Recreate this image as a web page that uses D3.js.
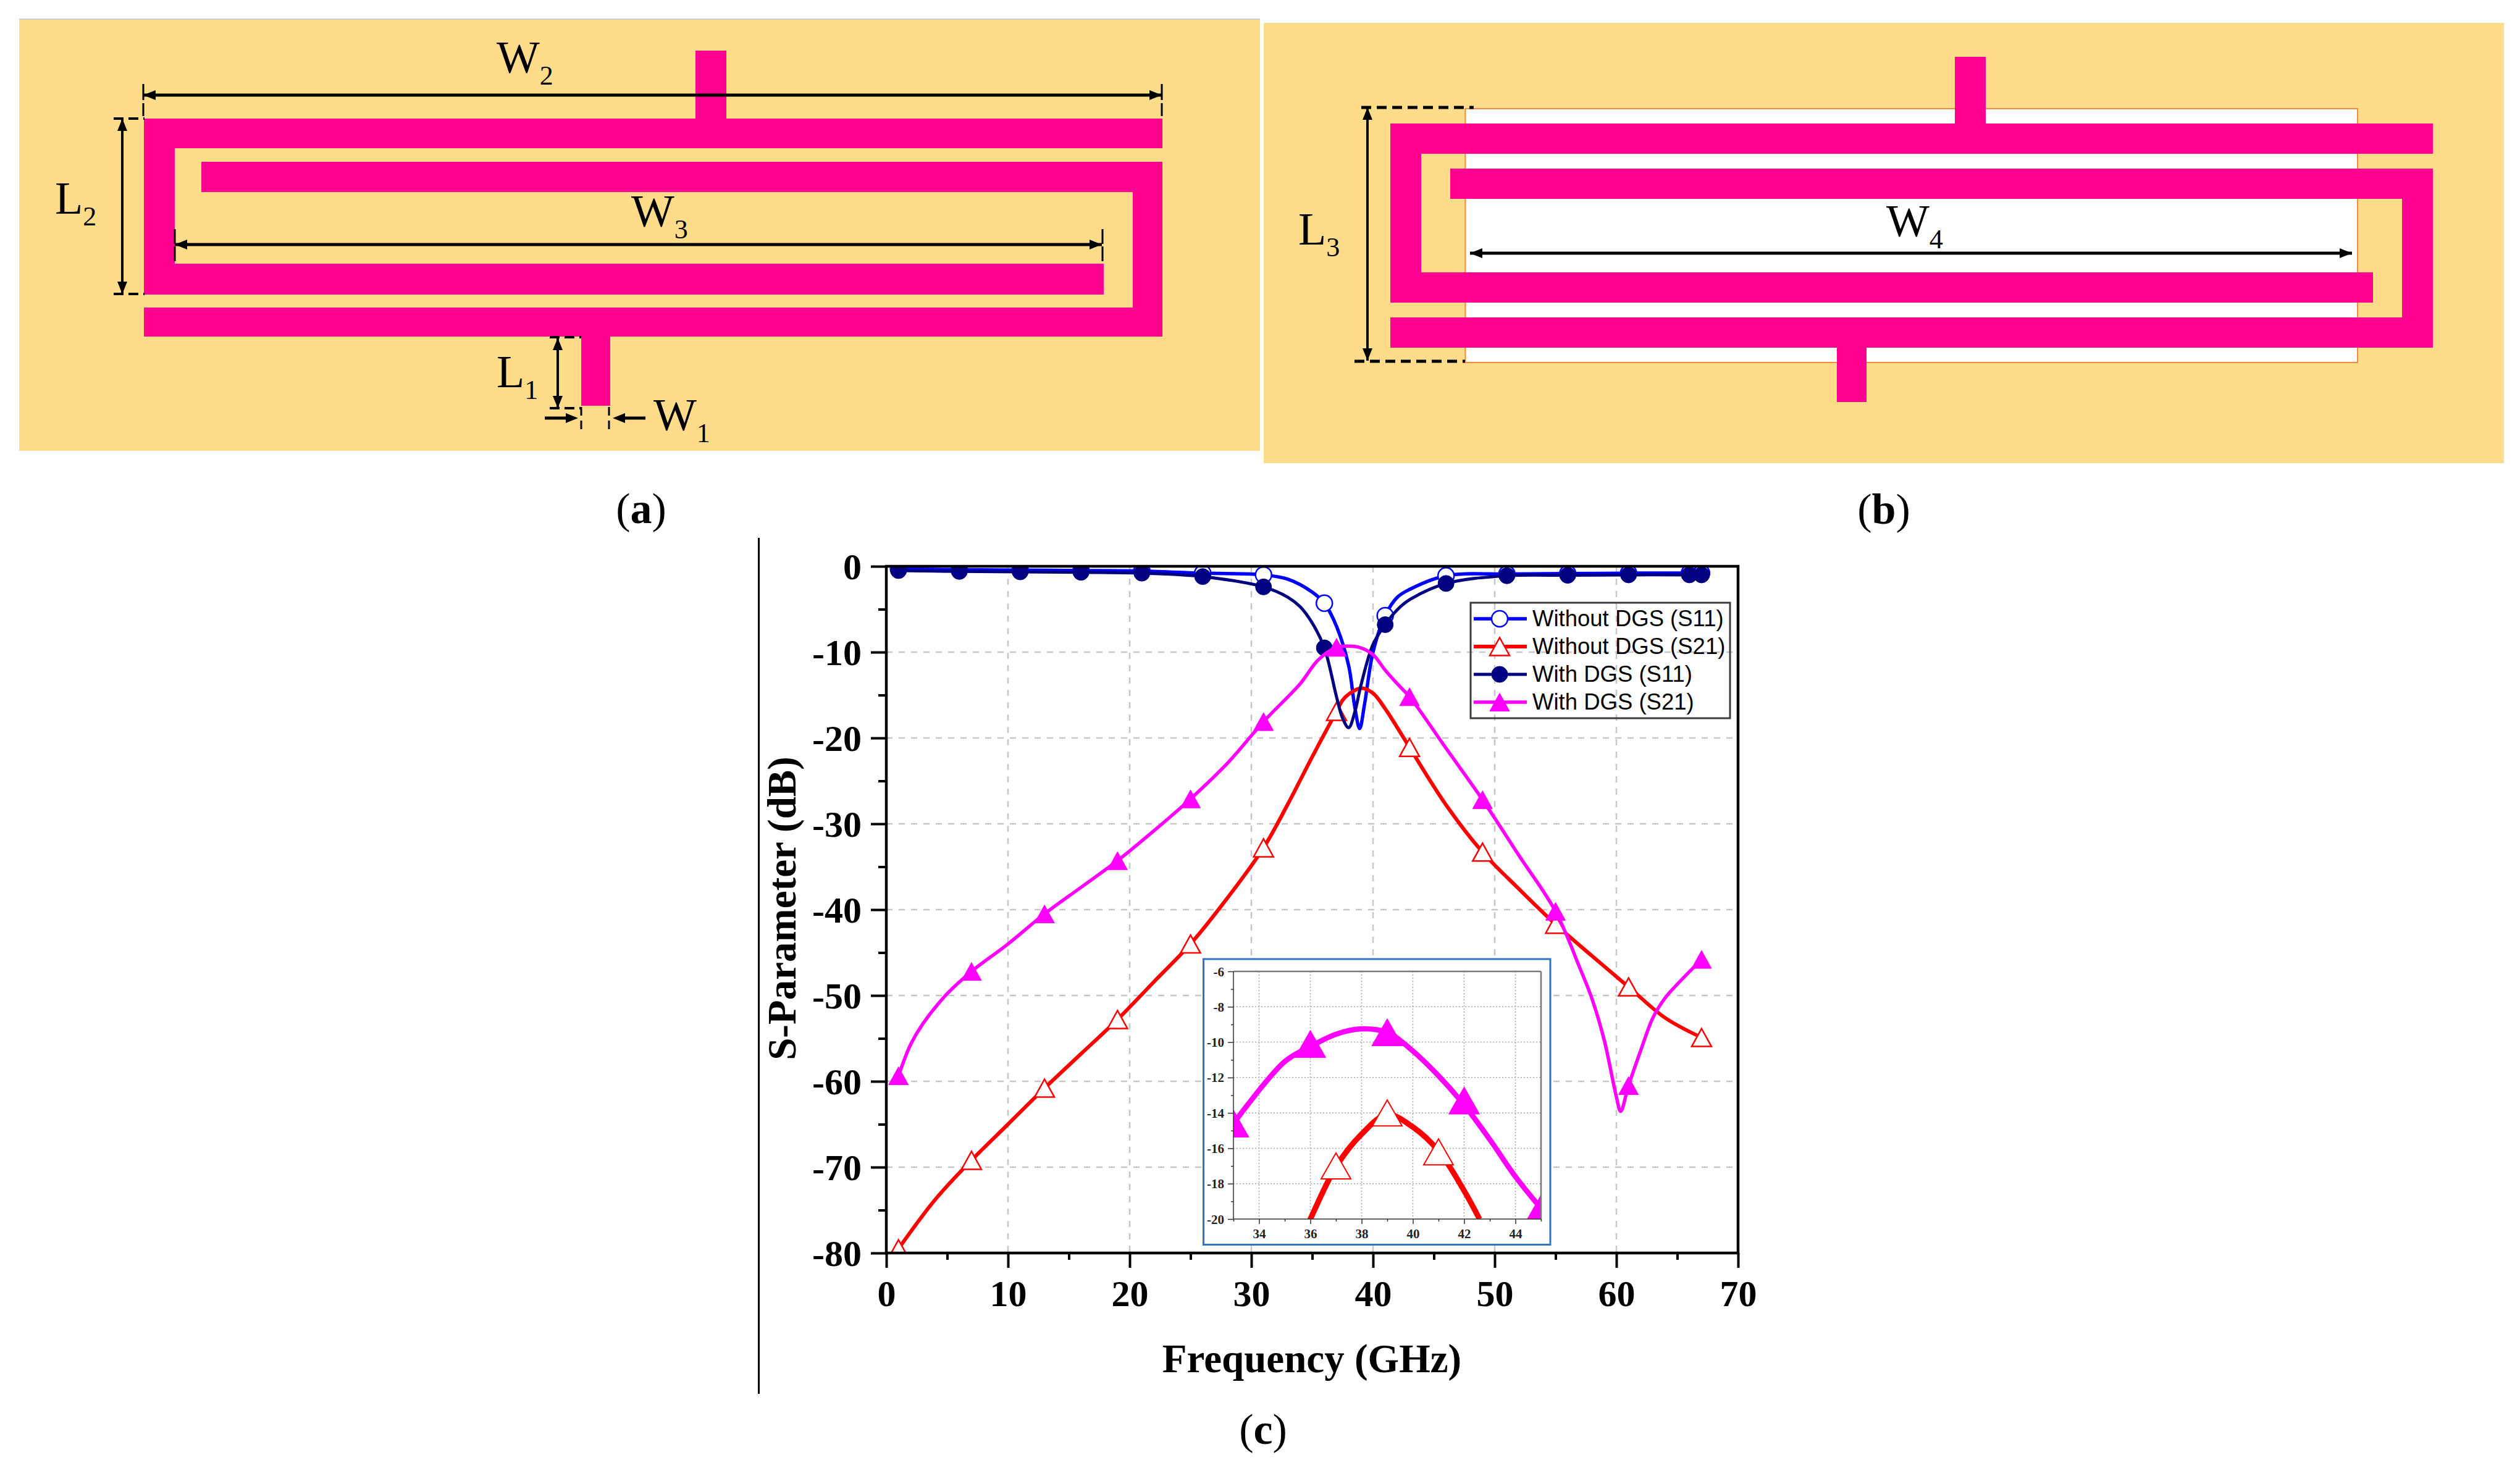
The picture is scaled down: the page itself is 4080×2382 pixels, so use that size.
<!DOCTYPE html>
<html><head><meta charset="utf-8">
<script src="https://cdnjs.cloudflare.com/ajax/libs/d3/7.8.5/d3.min.js"></script>
<style>html,body{margin:0;padding:0;background:#fff}svg{display:block}</style>
</head><body><svg id="fig" width="4080" height="2382"></svg>
<script>
// ---------- main chart data ----------
const xTicks = [0,10,20,30,40,50,60,70];
const xMinorTicks = [5,15,25,35,45,55,65];
const yTicks = [0,-10,-20,-30,-40,-50,-60,-70,-80];
const yMinorTicks = [-5,-15,-25,-35,-45,-55,-65,-75];
const xGridValues = [10,20,30,40,50,60];
const yGridValues = [-10,-20,-30,-40,-50,-60,-70];

const s11Markers = [1,6,11,16,21,26,31,36,41,46,51,56,61,66,67];
const s21Markers = [1,7,13,19,25,31,37,43,49,55,61,67];

const withoutS11Freq = [1,6,11,16,21,26,31,33,35,36,37,38,38.5,38.9,39.3,40,41,42,43,46,51,56,61,66,67];
const withoutS11Vals = [-0.3,-0.4,-0.45,-0.5,-0.55,-0.8,-1.0,-1.5,-3.0,-4.3,-7.0,-11.6,-16.4,-18.9,-16.1,-10,-5.75,-3.6,-2.7,-1.1,-0.9,-0.85,-0.8,-0.8,-0.8];

const withoutS21Freq = [1,4,7,10,13,16,19,22,25,28,31,33,35,37,37.5,38,39,40,41,42,43,46,49,52,55,58,61,64,67];
const withoutS21Vals = [-79.5,-73.8,-69.2,-65,-60.8,-56.8,-52.8,-48.4,-44,-38.7,-32.8,-27.7,-22.2,-16.9,-15.6,-14.9,-14.2,-14.8,-16.6,-18.8,-21.1,-27.8,-33.3,-37.6,-41.7,-45.4,-49,-52.6,-54.9];

const withS11Freq = [1,6,11,16,21,26,31,33,34,35,36,37,37.5,38,38.5,39,40,41,42,43,46,51,56,61,66,67];
const withS11Vals = [-0.5,-0.6,-0.65,-0.7,-0.8,-1.2,-2.4,-3.6,-4.7,-6.6,-9.5,-15.2,-17.7,-18.8,-17,-13.9,-9.1,-6.8,-5.05,-3.9,-2.0,-1.1,-1.05,-1.0,-1.0,-1.0];

const withS21Freq = [1,2,3,5,7,10,13,16,19,22,25,28,31,34,35.5,37,38,39,40,41,42,43,46,49,52,55,57,58,59,60,60.35,61,62,63,64,65,67];
const withS21Vals = [-59.35,-55.7,-53.3,-49.8,-47.2,-44,-40.5,-37.4,-34.3,-30.8,-27.1,-23,-18.1,-13.7,-10.9,-9.45,-9.3,-9.5,-10.3,-12.1,-13.7,-15.2,-21.2,-27.2,-33.7,-40.2,-46.8,-50.4,-55.2,-61.8,-63.5,-60.5,-56.4,-52.6,-50.3,-48.7,-45.8];

const legendLabels = ["Without DGS (S11)","Without DGS (S21)","With DGS (S11)","With DGS (S21)"];

// ---------- inset data ----------
const insetXTicks = [34,36,38,40,42,44];
const insetXMinor = [33,35,37,39,41,43,45];
const insetYTicks = [-6,-8,-10,-12,-14,-16,-18,-20];
const insetYMinor = [-7,-9,-11,-13,-15,-17,-19];
const insetMagFreq = [33,35,36,37,38,39,40,41,42,43,44,45];
const insetMagVals = [-14.6,-11.1,-10.25,-9.55,-9.25,-9.45,-10.5,-11.9,-13.55,-15.5,-17.6,-19.4];
const insetMagMarkFreq = [33,36,39,42,45];
const insetMagMarkVals = [-14.6,-10.1,-9.44,-13.3,-19.4];
const insetRedFreq = [35.9,36,37,38,39,40,41,42,42.6];
const insetRedVals = [-20.3,-20,-17.05,-15.2,-14.1,-14.8,-16.15,-18.4,-20];
const insetRedMarkFreq = [37,39,41];
const insetRedMarkVals = [-17,-14,-16.2];

// ---------- style ----------
const serif = "'Liberation Serif','Times New Roman',serif";
const sans = "'Liberation Sans',Arial,sans-serif";
const pink = "#FF0090", sand = "#FEDC89";
const cBlue="#0000FF", cRed="#FF0000", cNavy="#000080", cMag="#FF00FF";
const svg = d3.select("#fig");

// ---------- schematic helpers ----------
function rects(list, fill){
  svg.append("g").selectAll("rect").data(list).join("rect")
    .attr("x",d=>d[0]).attr("y",d=>d[1]).attr("width",d=>d[2]-d[0]).attr("height",d=>d[3]-d[1])
    .attr("fill",fill);
}
function seg(x1,y1,x2,y2,w,dash){
  const l = svg.append("line").attr("x1",x1).attr("y1",y1).attr("x2",x2).attr("y2",y2)
    .attr("stroke","#000").attr("stroke-width",w||3);
  if(dash) l.attr("stroke-dasharray",dash);
}
function head(x,y,dir){
  const L=20,W=8;
  const p = dir==="l"?[[x,y],[x+L,y-W],[x+L,y+W]]:dir==="r"?[[x,y],[x-L,y-W],[x-L,y+W]]:
            dir==="u"?[[x,y],[x-W,y+L],[x+W,y+L]]:[[x,y],[x-W,y-L],[x+W,y-L]];
  svg.append("polygon").attr("points",p.map(q=>q.join(",")).join(" ")).attr("fill","#000");
}
function hArrow(x1,x2,y){seg(x1,y,x2,y,5);head(x1,y,"l");head(x2,y,"r");}
function vArrow(x,y1,y2){seg(x,y1,x,y2,4);head(x,y1,"u");head(x,y2,"d");}
function sym(main,sub,x,y){
  const t = svg.append("text").attr("x",x).attr("y",y).attr("font-family",serif).attr("font-size",74).attr("fill","#000").text(main);
  t.append("tspan").attr("font-size",44).attr("dy",19).text(sub);
}
function caption(letter,cx,y){
  const t = svg.append("text").attr("x",cx).attr("y",y).attr("text-anchor","middle")
    .attr("font-family",serif).attr("font-size",70).attr("fill","#000").text("(");
  t.append("tspan").attr("font-weight","bold").text(letter);
  t.append("tspan").text(")");
}

// ---------- panel (a) ----------
svg.append("rect").attr("x",31).attr("y",31).attr("width",2009).attr("height",699).attr("fill",sand);
svg.append("line").attr("x1",31).attr("x2",2040).attr("y1",31).attr("y2",31).attr("stroke","#cfcfcf").attr("stroke-width",2);
rects([
 [233,192,1882,240],[233,192,283,477],[233,427,1787,477],[326,262,1882,311],
 [1834,262,1882,545],[233,498,1882,545],[1126,82,1176,192],[941,545,988,657]
],pink);
hArrow(232,1881,154);
seg(232,136,232,188,3,"26 5"); seg(1881,136,1881,188,3,"26 5");
hArrow(283,1784,396);
seg(283,371,283,425,3,"24 4"); seg(1785,371,1785,425,3,"24 4");
vArrow(198,192,476);
seg(184,192,234,192,4,"16 8"); seg(184,476,234,476,4,"16 8");
vArrow(903,547,661);
seg(890,546,941,546,4,"16 8"); seg(890,661,941,661,4,"16 8");
seg(882,677,922,677,5); head(936,677,"r");
seg(1006,677,1045,677,5); head(992,677,"l");
seg(941,659,941,698,3,"14 8"); seg(986,659,986,698,3,"14 8");
sym("W","2",804,118); sym("W","3",1022,367); sym("L","2",89,346); sym("L","1",804,627); sym("W","1",1058,697);
caption("a",1038,847);

// ---------- panel (b) ----------
svg.append("rect").attr("x",2046).attr("y",37).attr("width",2008).attr("height",713).attr("fill",sand);
svg.append("rect").attr("x",2372.5).attr("y",176).attr("width",1444.5).attr("height",411)
  .attr("fill","#fff").attr("stroke","#F08A3C").attr("stroke-width",2);
rects([
 [2251,200,3939,249],[2251,200,2301,490],[2251,441,3842,490],[2348,273,3939,322],
 [3889,273,3939,563],[2251,514,3939,563],[3165,92,3215,200],[2974,563,3022,651]
],pink);
vArrow(2214,174,584);
seg(2204,174,2386,174,5,"16 9"); seg(2193,585,2372,585,5,"16 9");
hArrow(2380,3808,410);
sym("W","4",3054,383); sym("L","3",2102,396);
caption("b",3050,848);

// ---------- separator + caption (c) ----------
svg.append("line").attr("x1",1228.5).attr("x2",1228.5).attr("y1",871).attr("y2",2257).attr("stroke","#000").attr("stroke-width",3);
caption("c",2045,2338);

// ---------- main chart ----------
const x = d3.scaleLinear().domain([0,70]).range([1435,2814]);
const y = d3.scaleLinear().domain([0,-80]).range([917,2029]);
const chart = svg.append("g");
const defs = svg.append("defs");
defs.append("clipPath").attr("id","plotClip").append("rect")
  .attr("x",x(0)).attr("y",y(0)).attr("width",x(70)-x(0)).attr("height",y(-80)-y(0));

const grid = chart.append("g").attr("stroke","#c6c6c6").attr("stroke-width",2.5).attr("stroke-dasharray","10 10");
grid.selectAll("line.v").data(xGridValues).join("line").attr("class","v")
  .attr("x1",d=>x(d)).attr("x2",d=>x(d)).attr("y1",y(0)).attr("y2",y(-80));
grid.selectAll("line.h").data(yGridValues).join("line").attr("class","h")
  .attr("y1",d=>y(d)).attr("y2",d=>y(d)).attr("x1",x(0)).attr("x2",x(70));

function triPath(w,h){return `M0,${-h/2}L${w/2},${h/2}L${-w/2},${h/2}Z`;}
const line = (sx,sy)=>d3.line().x(d=>sx(d[0])).y(d=>sy(d[1])).curve(d3.curveCatmullRom.alpha(0.5));
const zip=(a,b)=>a.map((v,i)=>[v,b[i]]);
const lookup=(fr,vals,f)=>vals[fr.indexOf(f)];

const series = [
 {f:withoutS11Freq,v:withoutS11Vals,m:s11Markers,c:cBlue,w:5.5,kind:"circle",open:true},
 {f:withoutS21Freq,v:withoutS21Vals,m:s21Markers,c:cRed,w:6,kind:"tri",open:true},
 {f:withS11Freq,v:withS11Vals,m:s11Markers,c:cNavy,w:5,kind:"circle",open:false},
 {f:withS21Freq,v:withS21Vals,m:s21Markers,c:cMag,w:5.5,kind:"tri",open:false}
];
function drawMark(sel,kind,open,c,r,tw,th,sw){
  if(kind==="circle") sel.append("circle").attr("r",r).attr("fill",open?"#fff":c).attr("stroke",c).attr("stroke-width",open?sw:1);
  else sel.append("path").attr("d",triPath(tw,th)).attr("fill",open?"#fff":c).attr("stroke",c).attr("stroke-width",open?sw:1).attr("stroke-linejoin","miter");
}
const plot = chart.append("g").attr("clip-path","url(#plotClip)");
series.forEach(s=>{
  plot.append("path").datum(zip(s.f,s.v)).attr("d",line(x,y)).attr("fill","none").attr("stroke",s.c).attr("stroke-width",s.w);
  s.m.forEach(f=>{
    const g = plot.append("g").attr("transform",`translate(${x(f)},${y(lookup(s.f,s.v,f))})`);
    drawMark(g,s.kind,s.open,s.c,13,32,29,2.5);
  });
});

// axes
const styleAxis = (g)=>{
  g.selectAll("path.domain").remove();
  g.selectAll("text").attr("font-family",serif).attr("font-size",60).attr("font-weight","bold").attr("fill","#000");
};
const ax = chart.append("g").attr("transform",`translate(0,${y(-80)})`)
  .call(d3.axisBottom(x).tickValues(xTicks).tickSize(24).tickPadding(0));
ax.call(styleAxis);
ax.selectAll("text").attr("y",null).attr("dy",null).attr("y",86);
ax.selectAll("line").attr("stroke","#000").attr("stroke-width",4);
const axm = chart.append("g").attr("transform",`translate(0,${y(-80)})`)
  .call(d3.axisBottom(x).tickValues(xMinorTicks).tickSize(11).tickFormat(""));
axm.call(styleAxis); axm.selectAll("line").attr("stroke","#000").attr("stroke-width",4);

const ay = chart.append("g").attr("transform",`translate(${x(0)},0)`)
  .call(d3.axisLeft(y).tickValues(yTicks).tickSize(25).tickPadding(0).tickFormat(d=>String(d)));
ay.call(styleAxis);
ay.selectAll("text").attr("x",-40).attr("dy",null).attr("y",20);
ay.selectAll("line").attr("stroke","#000").attr("stroke-width",4);
const aym = chart.append("g").attr("transform",`translate(${x(0)},0)`)
  .call(d3.axisLeft(y).tickValues(yMinorTicks).tickSize(13).tickFormat(""));
aym.call(styleAxis); aym.selectAll("line").attr("stroke","#000").attr("stroke-width",4);

chart.append("rect").attr("x",x(0)).attr("y",y(0)).attr("width",x(70)-x(0)).attr("height",y(-80)-y(0))
  .attr("fill","none").attr("stroke","#000").attr("stroke-width",4.5);

chart.append("text").attr("x",2124).attr("y",2222).attr("text-anchor","middle")
  .attr("font-family",serif).attr("font-size",65).attr("font-weight","bold").text("Frequency (GHz)");
chart.append("text").attr("transform","translate(1288,1471) rotate(-90)").attr("text-anchor","middle")
  .attr("font-family",serif).attr("font-size",65).attr("font-weight","bold").text("S-Parameter (dB)");

// legend (transparent background: grid shows through)
const leg = chart.append("g");
leg.append("rect").attr("x",2381).attr("y",976).attr("width",420).attr("height",187)
  .attr("fill","none").attr("stroke","#3d3d3d").attr("stroke-width",3);
const rowY = d3.scaleLinear().domain([0,3]).range([1002,1137]);
legendLabels.forEach((t,i)=>{
  const s = series[i], ry = rowY(i);
  leg.append("line").attr("x1",2386).attr("x2",2472).attr("y1",ry).attr("y2",ry).attr("stroke",s.c).attr("stroke-width",s.w);
  drawMark(leg.append("g").attr("transform",`translate(2428,${ry})`),s.kind,s.open,s.c,13,32,29,2.5);
  leg.append("text").attr("x",2481).attr("y",ry+12).attr("font-family",sans).attr("font-size",36.5).attr("fill","#000").text(t);
});

// ---------- inset ----------
const inset = svg.append("g");
inset.append("rect").attr("x",1948.5).attr("y",1553).attr("width",561.5).attr("height",462.5)
  .attr("fill","#fff").attr("stroke","#2E75C6").attr("stroke-width",3);
const ix = d3.scaleLinear().domain([33,45]).range([1997,2495]);
const iy = d3.scaleLinear().domain([-6,-20]).range([1573,1974]);
defs.append("clipPath").attr("id","insetClip").append("rect")
  .attr("x",ix(33)).attr("y",iy(-6)).attr("width",ix(45)-ix(33)).attr("height",iy(-20)-iy(-6));
const ig = inset.append("g").attr("stroke","#a8a8a8").attr("stroke-width",1.5).attr("stroke-dasharray","2 3");
ig.selectAll("line.v").data(insetXTicks).join("line").attr("class","v")
  .attr("x1",d=>ix(d)).attr("x2",d=>ix(d)).attr("y1",iy(-6)).attr("y2",iy(-20));
ig.selectAll("line.h").data(insetYTicks.slice(1,-1)).join("line").attr("class","h")
  .attr("y1",d=>iy(d)).attr("y2",d=>iy(d)).attr("x1",ix(33)).attr("x2",ix(45));

const ip = inset.append("g").attr("clip-path","url(#insetClip)");
ip.append("path").datum(zip(insetRedFreq,insetRedVals)).attr("d",line(ix,iy)).attr("fill","none").attr("stroke",cRed).attr("stroke-width",9);
ip.append("path").datum(zip(insetMagFreq,insetMagVals)).attr("d",line(ix,iy)).attr("fill","none").attr("stroke",cMag).attr("stroke-width",8.5);
zip(insetMagMarkFreq,insetMagMarkVals).forEach(d=>{
  drawMark(ip.append("g").attr("transform",`translate(${ix(d[0])},${iy(d[1])})`),"tri",false,cMag,0,50,44,2);
});
zip(insetRedMarkFreq,insetRedMarkVals).forEach(d=>{
  drawMark(ip.append("g").attr("transform",`translate(${ix(d[0])},${iy(d[1])})`),"tri",true,cRed,0,48,42,2);
});
const iax = inset.append("g").attr("transform",`translate(0,${iy(-20)})`)
  .call(d3.axisBottom(ix).tickValues(insetXTicks).tickSize(8));
iax.select("path.domain").remove();
iax.selectAll("line").attr("stroke","#333").attr("stroke-width",1.5);
iax.selectAll("text").attr("dy",null).attr("y",31).attr("font-family",serif).attr("font-size",21).attr("font-weight","bold").attr("fill","#222");
const iaxm = inset.append("g").attr("transform",`translate(0,${iy(-20)})`)
  .call(d3.axisBottom(ix).tickValues(insetXMinor).tickSize(4).tickFormat(""));
iaxm.select("path.domain").remove(); iaxm.selectAll("line").attr("stroke","#333").attr("stroke-width",1.5);
const iay = inset.append("g").attr("transform",`translate(${ix(33)},0)`)
  .call(d3.axisLeft(iy).tickValues(insetYTicks).tickSize(9).tickFormat(d=>String(d)));
iay.select("path.domain").remove();
iay.selectAll("line").attr("stroke","#333").attr("stroke-width",1.5);
iay.selectAll("text").attr("dy",null).attr("x",-15).attr("y",7).attr("font-family",serif).attr("font-size",21).attr("font-weight","bold").attr("fill","#222");
const iaym = inset.append("g").attr("transform",`translate(${ix(33)},0)`)
  .call(d3.axisLeft(iy).tickValues(insetYMinor).tickSize(4).tickFormat(""));
iaym.select("path.domain").remove(); iaym.selectAll("line").attr("stroke","#333").attr("stroke-width",1.5);
inset.append("line").attr("x1",ix(33)).attr("x2",ix(45)).attr("y1",iy(-6)).attr("y2",iy(-6)).attr("stroke","#777").attr("stroke-width",2.5);
inset.append("line").attr("x1",ix(45)).attr("x2",ix(45)).attr("y1",iy(-6)).attr("y2",iy(-20)).attr("stroke","#777").attr("stroke-width",2.5);
inset.append("line").attr("x1",ix(33)).attr("x2",ix(33)).attr("y1",iy(-6)).attr("y2",iy(-20)).attr("stroke","#333").attr("stroke-width",1.5);
inset.append("line").attr("x1",ix(33)).attr("x2",ix(45)).attr("y1",iy(-20)).attr("y2",iy(-20)).attr("stroke","#333").attr("stroke-width",1.5);
</script></body></html>
